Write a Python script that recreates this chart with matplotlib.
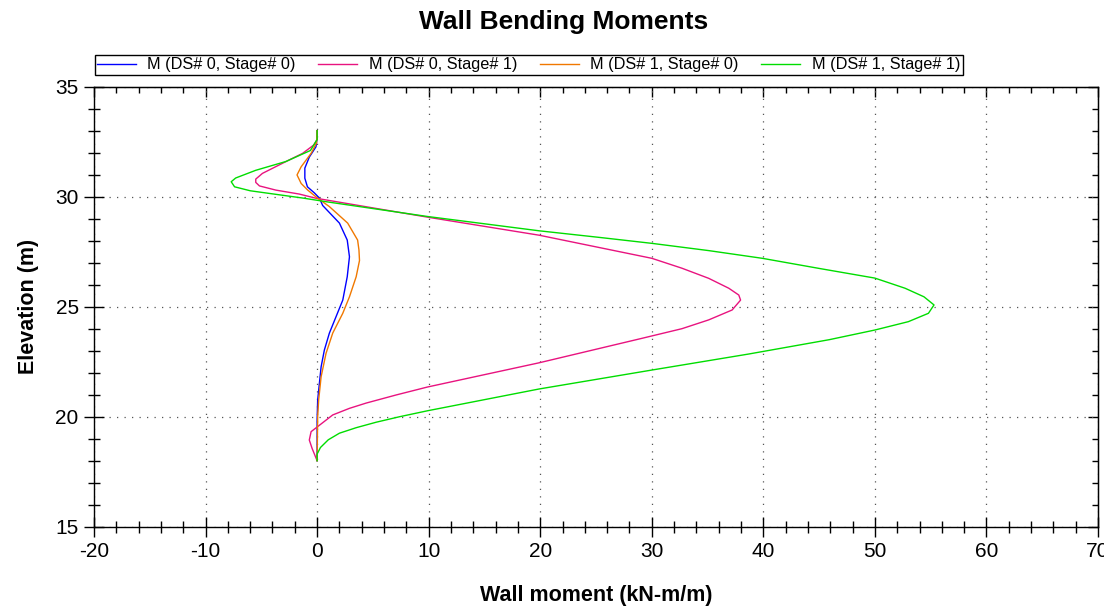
import matplotlib.pyplot as plt
from matplotlib.ticker import MultipleLocator

plt.rcParams['font.family'] = ['Liberation Sans', 'DejaVu Sans']
plt.rcParams['axes.unicode_minus'] = False

# elevation (m) / wall moment (kN-m/m)
elev_d0s0 = [33.0, 32.67, 32.27, 31.8, 31.3, 30.84, 30.45, 30.17, 29.94, 29.6, 28.8,
             28.03, 27.27, 26.36, 25.3, 24.55, 23.8, 23.03, 22.27, 21.5, 20.76, 19.85, 18.0]
mom_d0s0 = [0.0, 0.0, -0.1, -0.7, -1.1, -1.1, -0.87, -0.24, 0.2, 0.5, 2.0,
            2.7, 2.9, 2.7, 2.3, 1.7, 1.1, 0.65, 0.36, 0.2, 0.05, 0.0, 0.0]

elev_d0s1 = [33.0, 32.6, 32.35, 31.97, 31.52, 31.06, 30.8, 30.65, 30.49, 30.3, 30.12,
             29.93, 29.07, 28.25, 27.2, 26.75, 26.29, 25.84, 25.53, 25.3, 24.85, 24.4,
             24.0, 23.56, 22.45, 21.35, 20.99, 20.62, 20.38, 20.08, 19.55, 19.32, 18.94,
             18.56, 18.0]
mom_d0s1 = [0.0, 0.0, -0.3, -1.3, -3.1, -4.9, -5.5, -5.5, -5.17, -3.7, -1.6,
            -0.1, 9.9, 19.9, 30.0, 32.7, 35.1, 36.9, 37.8, 37.96, 37.2, 35.1,
            32.7, 29.1, 19.9, 9.9, 7.1, 4.4, 2.9, 1.4, 0.05, -0.54, -0.7,
            -0.45, 0.0]

elev_d1s0 = [33.0, 32.45, 31.97, 31.36, 30.99, 30.6, 30.3, 29.93, 29.55, 28.8, 28.03,
             27.58, 27.1, 26.36, 25.45, 24.7, 23.8, 22.88, 21.82, 20.76, 20.0, 18.0]
mom_d1s0 = [0.0, -0.05, -0.54, -1.43, -1.8, -1.43, -0.84, 0.05, 1.1, 2.74, 3.63,
            3.75, 3.8, 3.5, 2.9, 2.3, 1.4, 0.8, 0.36, 0.14, 0.05, 0.0]

elev_d1s1 = [33.0, 32.6, 32.1, 31.6, 31.2, 30.85, 30.68, 30.45, 30.27, 30.15, 29.94,
             29.75, 29.1, 28.45, 28.15, 27.88, 27.55, 27.2, 26.74, 26.3, 25.84, 25.45,
             25.08, 24.7, 24.32, 23.94, 23.5, 22.85, 22.12, 21.26, 20.27, 20.0, 19.75,
             19.5, 19.25, 18.95, 18.6, 18.3, 18.0]
mom_d1s1 = [0.0, 0.0, -0.6, -2.8, -5.5, -7.3, -7.7, -7.4, -6.0, -4.3, -1.3,
            1.1, 9.9, 19.9, 25.3, 30.0, 35.1, 39.9, 45.0, 50.0, 52.7, 54.4,
            55.3, 54.8, 53.0, 50.0, 45.9, 38.7, 30.0, 19.9, 9.9, 7.4, 5.3,
            3.5, 2.0, 1.0, 0.3, 0.0, 0.0]

labels = ['M (DS# 0, Stage# 0)', 'M (DS# 0, Stage# 1)',
          'M (DS# 1, Stage# 0)', 'M (DS# 1, Stage# 1)']
colors = ['#0000FF', '#E8137F', '#F07800', '#00DD00']

fig = plt.figure(figsize=(11.04, 6.06), dpi=100)
ax = fig.add_axes([94 / 1104, 1 - 526.7 / 606, 1004 / 1104, 440 / 606])

series = [(mom_d0s0, elev_d0s0), (mom_d0s1, elev_d0s1),
          (mom_d1s0, elev_d1s0), (mom_d1s1, elev_d1s1)]
for (m, e), lab, c in zip(series, labels, colors):
    ax.plot(m, e, color=c, lw=1.0, label=lab)

ax.set_xlim(-20, 70)
ax.set_ylim(15, 35)
ax.xaxis.set_major_locator(MultipleLocator(10))
ax.xaxis.set_minor_locator(MultipleLocator(2))
ax.yaxis.set_major_locator(MultipleLocator(5))
ax.yaxis.set_minor_locator(MultipleLocator(1))
ax.grid(True, which='major', color='#555555', linestyle=(0, (1, 5)), lw=0.9)

ax.tick_params(which='major', direction='inout', length=14, width=1, labelsize=15, pad=4)
ax.tick_params(which='minor', direction='inout', length=9, width=1)
for s in ax.spines.values():
    s.set_linewidth(1)

# inward ticks on the top and right edges
top = ax.secondary_xaxis('top')
right = ax.secondary_yaxis('right')
top.xaxis.set_major_locator(MultipleLocator(10))
top.xaxis.set_minor_locator(MultipleLocator(2))
right.yaxis.set_major_locator(MultipleLocator(5))
right.yaxis.set_minor_locator(MultipleLocator(1))
for sec in (top, right):
    sec.tick_params(which='major', direction='in', length=7, width=1,
                    labeltop=False, labelright=False, labelbottom=False, labelleft=False)
    sec.tick_params(which='minor', direction='in', length=4.5, width=1)

ax.set_xlabel('Wall moment (kN-m/m)', fontsize=15.5, fontweight='bold', labelpad=17)
ax.set_ylabel('Elevation (m)', fontsize=15.5, fontweight='bold', labelpad=12)
fig.text(564 / 1104, 1 - 22 / 606, 'Wall Bending Moments', fontsize=19,
         fontweight='bold', ha='center', va='center')

fig.legend(loc='upper left', bbox_to_anchor=(94.5 / 1104, 1 - 55 / 606), ncol=4,
           fontsize=11.7, frameon=True, fancybox=False, edgecolor='black',
           framealpha=1, borderpad=0.15, borderaxespad=0, handlelength=2.4,
           handletextpad=0.7, columnspacing=1.4).get_frame().set_linewidth(1)

fig.savefig('out.png', dpi=100)
